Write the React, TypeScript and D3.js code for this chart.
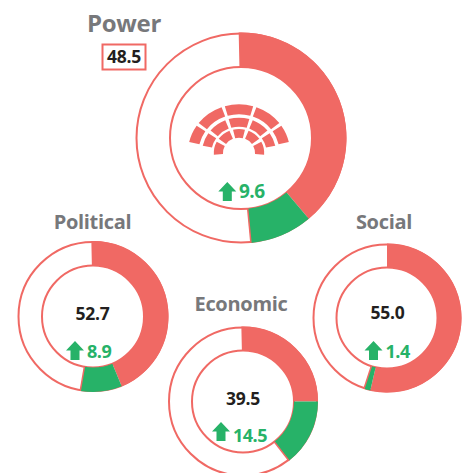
import React from "react";
import * as d3 from "d3";

const names = ["Power", "Political", "Economic", "Social"];
const totals = [48.5, 52.7, 39.5, 55.0];
const gains = [9.6, 8.9, 14.5, 1.4];
const redStartOffsets = [-0.35, -0.35, -0.35, 0];

const centers = [[241, 138], [93, 316.5], [243, 401.5], [387, 318]];
const outerRadii = [105.5, 75.5, 75, 74.5];
const innerRadii = [71, 51, 51, 50.5];
const titleAnchors = [[124, 32, 24], [92.5, 229, 20], [241, 311, 20], [384, 229, 20]];
const valueAnchors = [[124, 62.5], [92.5, 320], [243, 405], [387.5, 319]];
const gainAnchors = [[239, 198], [87, 358], [233, 442], [385.5, 358]];
const gainSizes = [19, 18, 18, 18];
const arrowAnchors = [[227.3, 182], [75, 341], [221, 422], [373.5, 341]];

const RED = "#f06964";
const GREEN = "#27b268";
const GRAY = "#77787b";
const INK = "#231f20";
const FONT = "'Open Sans', sans-serif";

const scale = d3.scaleLinear().domain([0, 100]).range([0, 2 * Math.PI]);

// parliament icon
const seatRings = [[38.7, 48.7], [26.3, 35.3], [15.3, 24]];
const seatBreaks = [
  [-77, -54, -18, 18, 54, 77],
  [-78, -53, -19, 19, 53, 78],
  [-94, -58, -18, 18, 58, 94],
];
const seatGap = [1.9, 2.8, 4.3];
const iconCenter = [239, 153];
const iconStretch = 1.05;
const rad = (deg: number) => (deg * Math.PI) / 180;

function arrowPath(x: number, y: number) {
  const p = d3.path();
  p.moveTo(x, y);
  p.lineTo(x + 9, y + 9.5);
  p.lineTo(x + 4.5, y + 9.5);
  p.lineTo(x + 4.5, y + 19);
  p.lineTo(x - 4.5, y + 19);
  p.lineTo(x - 4.5, y + 9.5);
  p.lineTo(x - 9, y + 9.5);
  p.closePath();
  return p.toString();
}

function Donut({ i }: { i: number }) {
  const [cx, cy] = centers[i];
  const R = outerRadii[i];
  const r = innerRadii[i];
  const total = totals[i];
  const gain = gains[i];
  const arc = d3.arc<any>().innerRadius(r).outerRadius(R);
  const ring = (a: number, b: number) => arc({ startAngle: scale(a), endAngle: scale(b) }) as string;
  const edge = scale(total);
  const lineEnd = [Math.sin(edge), -Math.cos(edge)];
  return (
    <g>
      <g transform={`translate(${cx},${cy})`}>
        <circle r={R - 1} fill="#fff" stroke={RED} strokeWidth={2} />
        <circle r={r} fill="#fff" stroke={RED} strokeWidth={2} />
        <path d={ring(redStartOffsets[i], total - gain)} fill={RED} />
        <path d={ring(total - gain, total)} fill={GREEN} />
        <line x1={lineEnd[0] * r} y1={lineEnd[1] * r} x2={lineEnd[0] * R} y2={lineEnd[1] * R} stroke={RED} strokeWidth={1.5} />
      </g>
      <text x={titleAnchors[i][0]} y={titleAnchors[i][1]} textAnchor="middle" fontSize={titleAnchors[i][2]} fontFamily={FONT} fontWeight={700} fill={GRAY} letterSpacing={-0.3}>{names[i]}</text>
      <text x={valueAnchors[i][0]} y={valueAnchors[i][1]} textAnchor="middle" fontSize={17.5} fontFamily={FONT} fontWeight={700} fill={INK} letterSpacing={-0.3}>{total.toFixed(1)}</text>
      <path d={arrowPath(arrowAnchors[i][0], arrowAnchors[i][1])} fill={GREEN} />
      <text x={gainAnchors[i][0]} y={gainAnchors[i][1]} fontSize={gainSizes[i]} fontFamily={FONT} fontWeight={700} fill={GREEN} letterSpacing={-0.5}>{gain.toFixed(1)}</text>
    </g>
  );
}

function Parliament() {
  const seat = d3.arc<any>();
  return (
    <g transform={`translate(${iconCenter[0]},${iconCenter[1]}) scale(${iconStretch},1)`} fill={RED}>
      {seatRings.map((ring, ri) =>
        seatBreaks[ri].slice(0, -1).map((b, si) => (
          <path
            key={`${ri}-${si}`}
            d={seat({
              innerRadius: ring[0],
              outerRadius: ring[1],
              startAngle: rad(b + (si === 0 ? 0 : seatGap[ri])),
              endAngle: rad(seatBreaks[ri][si + 1] - (si === 4 ? 0 : seatGap[ri])),
            }) as string}
          />
        ))
      )}
    </g>
  );
}

export default function App() {
  return (
    <svg width={467} height={473} style={{ position: "absolute", left: 0, top: 0, background: "#fff" }}>
      {names.map((_, i) => <Donut key={i} i={i} />)}
      <Parliament />
      <rect x={102.5} y={44.5} width={43} height={25} fill="none" stroke={RED} strokeWidth={2} />
    </svg>
  );
}
